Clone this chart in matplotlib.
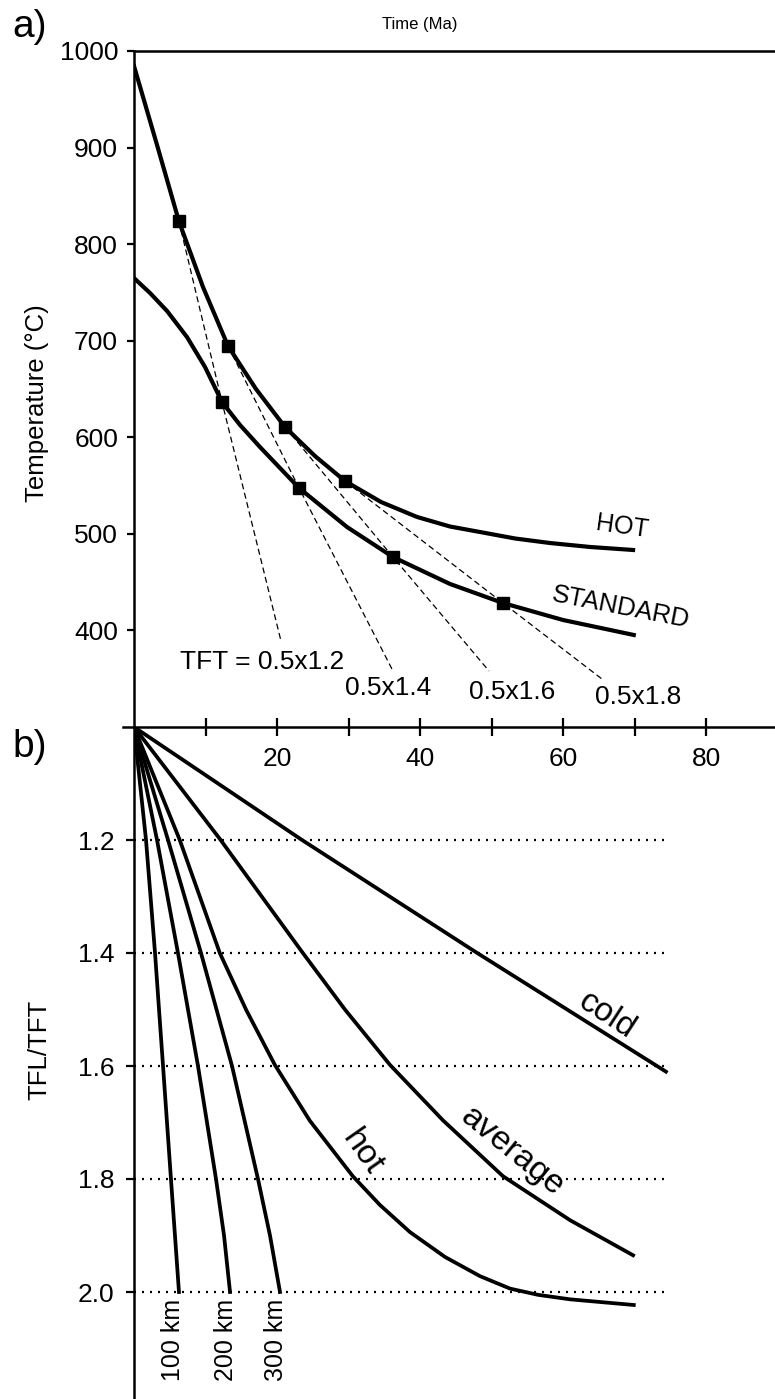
import matplotlib
matplotlib.use("Agg")
import matplotlib.pyplot as plt

plt.rcParams['font.family'] = ['Liberation Sans', 'DejaVu Sans']

# ---- panel a: temperature vs time ----
hot_t = [0, 3.22, 6.29, 9.65, 13.15, 17.06, 21.12, 25.31, 29.51, 34.55,
         39.58, 44.2, 48.4, 53.3, 58.2, 63.8, 69.8]
hot_T = [984.5, 902.7, 823.5, 755.6, 694.5, 650.0, 610.6, 580.6, 554.7, 533.0,
         517.5, 507.6, 501.9, 495.2, 490.5, 486.4, 483.3]
std_t = [0, 2.24, 4.62, 7.41, 9.93, 12.31, 14.83, 17.62, 23.08, 29.79,
         36.22, 44.2, 51.6, 60.0, 69.9]
std_T = [764.9, 749.4, 730.8, 703.8, 672.8, 636.5, 612.7, 589.9, 547.5, 507.1,
         476.0, 448.1, 428.4, 410.8, 395.3]

hot_mk_t = [6.29, 13.15, 21.12, 29.51]
hot_mk_T = [823.5, 694.5, 610.6, 554.7]
std_mk_t = [12.31, 23.08, 36.22, 51.6]
std_mk_T = [636.5, 547.5, 476.0, 428.4]
tft_end_t = [20.56, 36.08, 49.65, 65.45]
tft_end_T = [389, 360, 358, 349.7]
tft_labels = ['TFT = 0.5x1.2', '0.5x1.4', '0.5x1.6', '0.5x1.8']
tft_lab_t = [17.9, 35.5, 52.9, 70.5]
tft_lab_T = [367, 340, 336, 331]

# ---- panel b: TFL/TFT vs time ----
cold_t = [0, 23.5, 48, 74.4]
cold_r = [1.0, 1.2, 1.4, 1.61]
avg_t = [0, 12.0, 23.5, 29.5, 35.8, 43.2, 51.6, 61.0, 69.8]
avg_r = [1.0, 1.198, 1.398, 1.5, 1.598, 1.696, 1.795, 1.873, 1.935]
hotb_t = [0, 6.4, 12.0, 15.7, 19.7, 24.6, 30.6, 34.4, 38.6, 43.5, 48.4,
          52.6, 56.5, 61.0, 69.9]
hotb_r = [1.0, 1.2, 1.4, 1.501, 1.598, 1.697, 1.795, 1.846, 1.894, 1.938,
          1.972, 1.994, 2.005, 2.013, 2.023]
km_r = [1.0, 1.2, 1.4, 1.6, 1.8, 1.9, 2.0]
km100_t = [0, 1.68, 2.94, 4.06, 5.17, 5.73, 6.29]
km200_t = [0, 3.22, 6.15, 8.95, 11.47, 12.59, 13.43]
km300_t = [0, 4.76, 9.37, 13.71, 17.34, 19.02, 20.42]
km_labels = ['100 km', '200 km', '300 km']
km_lab_t = [5.45, 12.9, 19.9]
ref_levels = [1.2, 1.4, 1.6, 1.8, 2.0]

W, H = 775, 1399
fig = plt.figure(figsize=(W / 100, H / 100), dpi=100)
left = 134 / W
axb = fig.add_axes([left, 0, 1 - left, 1 - 727 / H])
axa = fig.add_axes([left, 1 - 727 / H, 1 - left, (727 - 51) / H])

xmax = (W - 134) / 7.15

# panel a
axa.plot(hot_t, hot_T, color='black', lw=3.0, solid_joinstyle='round')
axa.plot(std_t, std_T, color='black', lw=3.0, solid_joinstyle='round')
for i in range(4):
    axa.plot([hot_mk_t[i], std_mk_t[i], tft_end_t[i]],
             [hot_mk_T[i], std_mk_T[i], tft_end_T[i]],
             color='black', lw=0.9, linestyle=(0, (4.8, 2.9)))
    axa.text(tft_lab_t[i], tft_lab_T[i], tft_labels[i], fontsize=19,
             ha='center', va='center')
axa.plot(hot_mk_t, hot_mk_T, 's', color='black', ms=9, ls='none')
axa.plot(std_mk_t, std_mk_T, 's', color='black', ms=9, ls='none')
axa.text(68.3, 507, 'HOT', fontsize=18, rotation=-8, ha='center', va='center')
axa.text(68.1, 424, 'STANDARD', fontsize=18.5, rotation=-11, ha='center', va='center')

axa.set_xlim(0, xmax)
axa.set_ylim(300, 1000)
axa.set_yticks(range(400, 1001, 100))
axa.set_xticks(range(10, 90, 10))
axa.set_xticklabels(['', '20', '', '40', '', '60', '', '80'])
axa.tick_params(axis='x', direction='inout', length=13.5, width=1.6,
                labelsize=19, pad=7.5)
axa.tick_params(axis='y', direction='out', length=5, width=1.6,
                labelsize=19, pad=6.5)
axa.spines['right'].set_visible(False)
for s in ['left', 'top', 'bottom']:
    axa.spines[s].set_linewidth(1.8)
axa.plot([-0.017, 0], [0, 0], transform=axa.transAxes, color='black',
         lw=1.8, clip_on=False)

# panel b
axb.patch.set_visible(False)
axb.hlines(ref_levels, 0, 74.1, colors='black', lw=1.6,
           linestyles=[(0, (0.9, 2.7))])
for xs, ys in [(cold_t, cold_r), (avg_t, avg_r), (hotb_t, hotb_r),
               (km100_t, km_r), (km200_t, km_r), (km300_t, km_r)]:
    axb.plot(xs, ys, color='black', lw=2.7, solid_joinstyle='round')
for lab, xt in zip(km_labels, km_lab_t):
    axb.text(xt, 2.012, lab, fontsize=18, rotation=90, ha='center', va='top')
axb.text(66.2, 1.51, 'cold', fontsize=24, rotation=-33, ha='center', va='center')
axb.text(52.9, 1.752, 'average', fontsize=24.5, rotation=-39, ha='center', va='center')
axb.text(31.9, 1.754, 'hot', fontsize=24.5, rotation=-55, ha='center', va='center')

axb.set_xlim(0, xmax)
axb.set_ylim(1.0 + (H - 727) / 565, 1.0)
axb.set_yticks(ref_levels)
axb.set_yticklabels(['1.2', '1.4', '1.6', '1.8', '2.0'])
axb.set_xticks([])
axb.tick_params(axis='y', direction='out', length=6, width=1.6,
                labelsize=19, pad=8)
for s in ['top', 'right', 'bottom']:
    axb.spines[s].set_visible(False)
axb.spines['left'].set_linewidth(1.8)

# labels
fig.text(420 / W, 1 - 25 / H, 'Time (Ma)', fontsize=12, ha='center', va='center')
fig.text(37 / W, 1 - 403 / H, 'Temperature (°C)', fontsize=18.5, rotation=90,
         ha='center', va='center')
fig.text(39 / W, 1 - 1050 / H, 'TFL/TFT', fontsize=18.5, rotation=90,
         ha='center', va='center')
fig.text(12 / W, 1 - 37 / H, 'a)', fontsize=28, ha='left', va='baseline')
fig.text(12 / W, 1 - 757 / H, 'b)', fontsize=28, ha='left', va='baseline')

fig.savefig('out.png', dpi=100)
